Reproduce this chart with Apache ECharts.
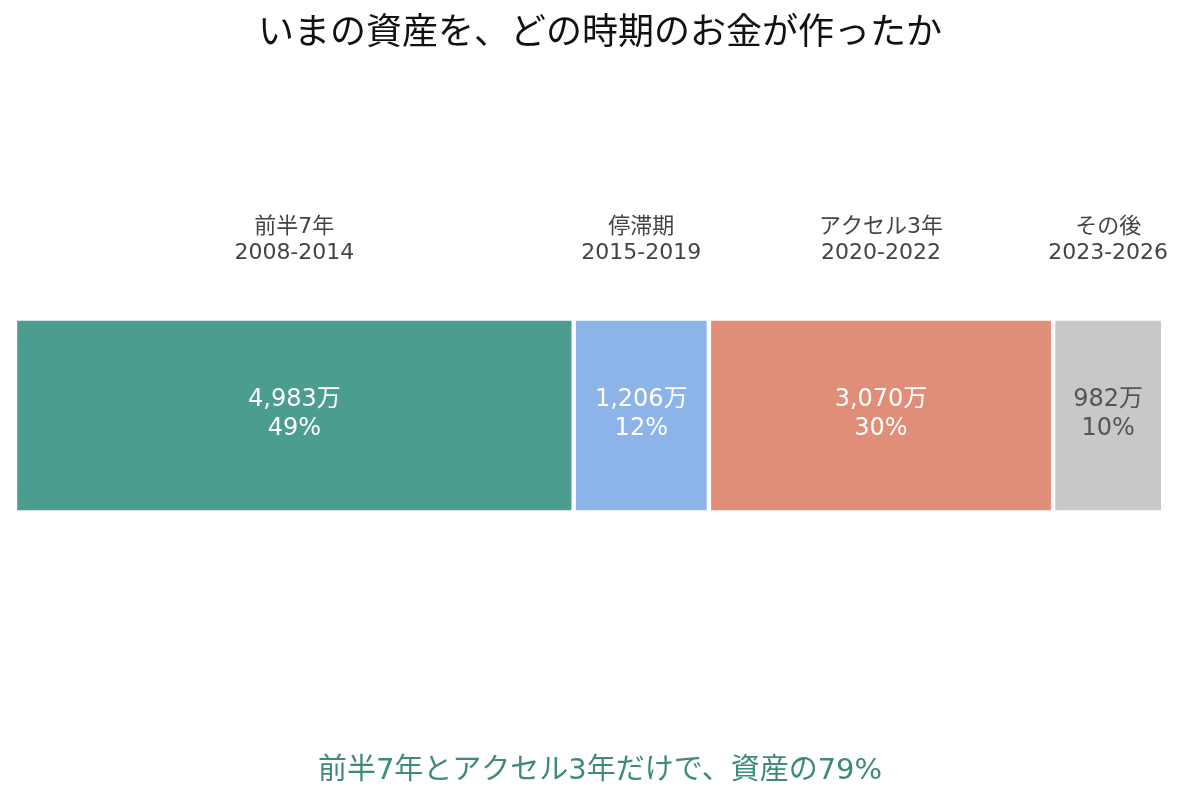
<!DOCTYPE html>
<html><head><meta charset="utf-8">
<script src="https://cdn.jsdelivr.net/npm/echarts@6/dist/echarts.min.js"></script>
<style>html,body{margin:0;padding:0;background:#fff}#c{width:1200px;height:800px}</style>
</head><body><div id="c"></div>
<script>
const periods = ['前半7年', '停滞期', 'アクセル3年', 'その後'];
const years = ['2008-2014', '2015-2019', '2020-2022', '2023-2026'];
const amounts = [4983, 1206, 3070, 982];
const percents = [49, 12, 30, 10];
const colors = ['#4a9d8f', '#8db4e8', '#e08e77', '#c8c8c8'];
const labelColors = ['#ffffff', '#ffffff', '#ffffff', '#555555'];
const titleText = 'いまの資産を、どの時期のお金が作ったか';
const footText = '前半7年とアクセル3年だけで、資産の79%';

const total = amounts.reduce((a, b) => a + b, 0);
const FONT = '"DejaVu Sans", "Noto Sans CJK JP", sans-serif';
const CJK = '"Noto Sans CJK JP", "Noto Sans", sans-serif';
let cum = 0;
const series = amounts.map((v, i) => {
  const mid = cum + v / 2;
  cum += v;
  return {
    type: 'bar', stack: 'all', name: periods[i], data: [v], barWidth: 194,
    itemStyle: { color: colors[i], borderColor: '#fff', borderWidth: 2.2 },
    label: {
      show: true, position: 'inside', offset: [0, -1],
      formatter: () => v.toLocaleString('en-US') + '万\n' + percents[i] + '%',
      color: labelColors[i], fontSize: 24, lineHeight: 29, fontFamily: FONT
    },
    markPoint: {
      symbol: 'rect', symbolSize: 0, silent: true,
      data: [{ coord: [mid, 0] }],
      label: {
        show: true, position: 'inside', offset: [0, -175],
        formatter: periods[i] + '\n' + years[i],
        color: '#444', fontSize: 22, lineHeight: 26, fontFamily: FONT
      }
    }
  };
});

const chart = echarts.init(document.getElementById('c'));
chart.setOption({
  animation: false,
  title: [
    { text: titleText, left: 'center', top: 7, textStyle: { fontSize: 36, fontWeight: 'normal', color: '#111', fontFamily: CJK } },
    { text: footText, left: 'center', top: 752, textStyle: { fontSize: 29, fontWeight: 'normal', color: '#3f8a7e', fontFamily: FONT } }
  ],
  grid: { left: 15, right: 36.8, top: 318.5, height: 194 },
  xAxis: { type: 'value', min: 0, max: total, show: false },
  yAxis: { type: 'category', data: ['資産'], show: false },
  series
});
</script></body></html>
